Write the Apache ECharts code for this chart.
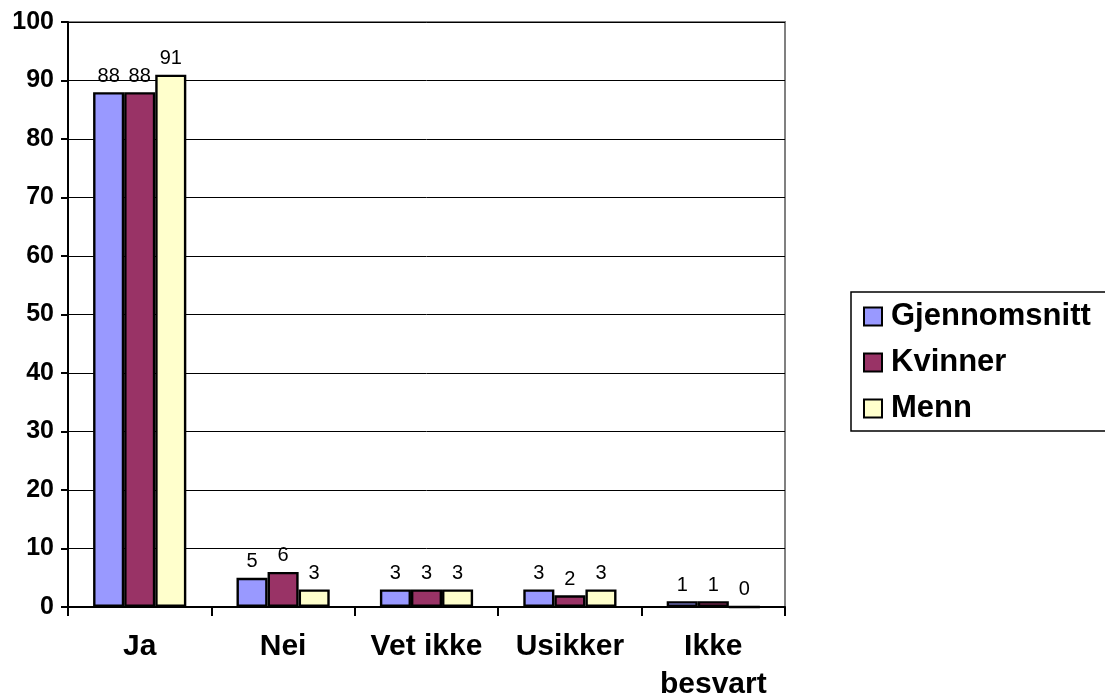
<!DOCTYPE html>
<html>
<head>
<meta charset="utf-8">
<script src="https://cdn.jsdelivr.net/npm/echarts@6/dist/echarts.min.js"></script>
<style>
  html, body { margin: 0; padding: 0; background: #fff; }
  #chart { width: 1105px; height: 698px; }
</style>
</head>
<body>
<div id="chart"></div>
<script>
// Survey answers in percent, by group
const categories = ['Ja', 'Nei', 'Vet ikke', 'Usikker', 'Ikke\nbesvart'];
const gjennomsnitt = [88, 5, 3, 3, 1];
const kvinner = [88, 6, 3, 2, 1];
const menn = [91, 3, 3, 3, 0];
const seriesNames = ['Gjennomsnitt', 'Kvinner', 'Menn'];
const seriesColors = ['#9999FF', '#993366', '#FFFFCC'];

const font = 'Arial, "Liberation Sans", sans-serif';

const chart = echarts.init(document.getElementById('chart'));

function barSeries(name, data, color) {
  return {
    name: name,
    type: 'bar',
    data: data,
    barGap: '0%',
    barCategoryGap: '35%',
    itemStyle: { color: color, borderColor: '#000', borderWidth: 2.4 },
    label: {
      show: true,
      position: 'top',
      distance: 6,
      color: '#000',
      fontFamily: font,
      fontSize: 20
    },
    emphasis: { disabled: true },
    animation: false
  };
}

chart.setOption({
  backgroundColor: '#fff',
  animation: false,
  grid: {
    left: 68, right: 320, top: 22, bottom: 91,
    outerBoundsMode: 'none',
    containLabel: false,
    show: true,
    borderColor: '#808080',
    borderWidth: 2,
    backgroundColor: '#fff'
  },
  legend: {
    left: 851, top: 292,
    orient: 'vertical',
    padding: [9, 40, 7, 12],
    itemGap: 15,
    itemWidth: 18,
    itemHeight: 18,
    backgroundColor: '#fff',
    borderColor: '#000',
    borderWidth: 1.5,
    borderRadius: 0,
    icon: 'rect',
    itemStyle: { borderColor: '#000', borderWidth: 2 },
    textStyle: {
      fontFamily: font, fontSize: 31, fontWeight: 'bold', color: '#000',
      padding: [0, 0, 0, 4]
    },
    data: seriesNames
  },
  xAxis: {
    type: 'category',
    data: categories,
    boundaryGap: true,
    axisLine: { lineStyle: { color: '#000', width: 2 } },
    axisTick: { show: true, inside: false, length: 9, lineStyle: { color: '#000', width: 2 } },
    axisLabel: {
      color: '#000', fontFamily: font, fontSize: 30, fontWeight: 'bold',
      margin: 21, lineHeight: 38, interval: 0
    }
  },
  yAxis: {
    type: 'value',
    min: 0, max: 100, interval: 10,
    axisLine: { show: true, lineStyle: { color: '#000', width: 2 } },
    axisTick: { show: true, inside: false, length: 7, lineStyle: { color: '#000', width: 2 } },
    axisLabel: { color: '#000', fontFamily: font, fontSize: 25, fontWeight: 'bold', margin: 14 },
    splitLine: { show: true, lineStyle: { color: '#000', width: 1 } }
  },
  series: [
    barSeries(seriesNames[0], gjennomsnitt, seriesColors[0]),
    barSeries(seriesNames[1], kvinner, seriesColors[1]),
    barSeries(seriesNames[2], menn, seriesColors[2])
  ]
});
</script>
</body>
</html>
